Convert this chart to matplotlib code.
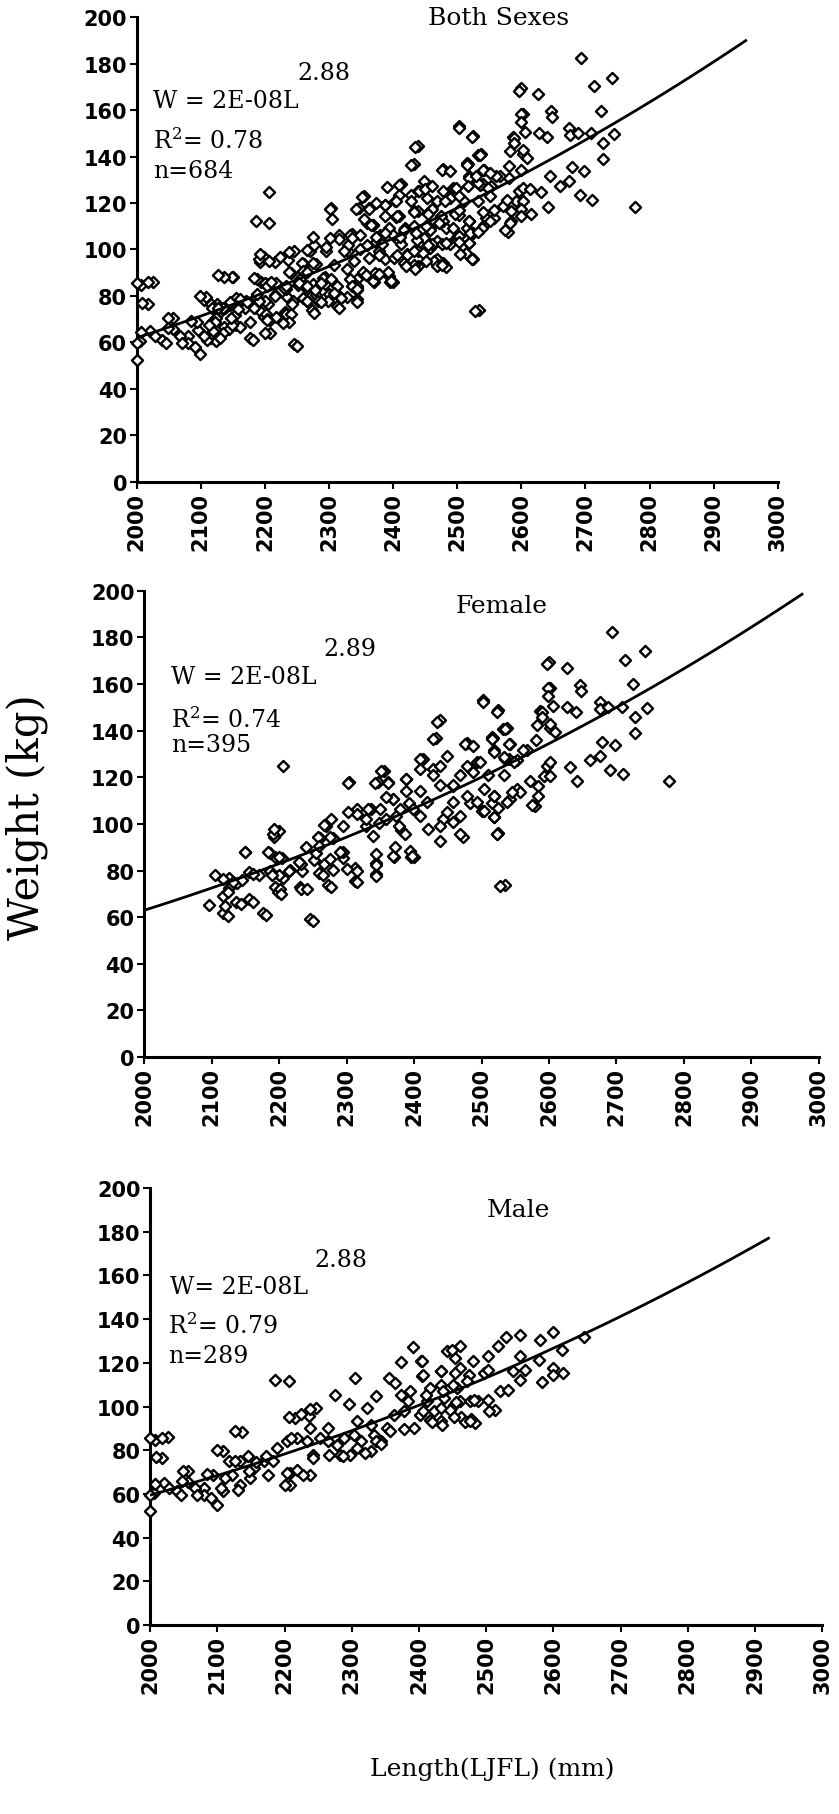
import numpy as np
import matplotlib
matplotlib.use("Agg")
import matplotlib.pyplot as plt

# female fish (length mm, weight kg)
female_len = [2105, 2096, 2116, 2117, 2125, 2126, 2136, 2155, 2155, 2176, 2194, 2198, 2205, 2194,
              2231, 2234, 2246, 2266, 2273, 2280, 2294, 2312, 2312, 2343, 2343, 2370, 2395, 2534,
              2137, 2145, 2186, 2216, 2251, 2259,
              2150, 2187, 2204, 2193, 2199, 2233, 2254, 2261, 2279, 2270, 2294, 2303, 2316, 2336,
              2346, 2355, 2362, 2348, 2368, 2373, 2388, 2393, 2400, 2381, 2413, 2428, 2433, 2438,
              2443, 2458, 2473, 2478, 2483, 2493, 2502, 2515, 2517, 2525, 2525, 2537, 2540, 2552,
              2567, 2579, 2587, 2600, 2602, 2592, 2602, 2597,
              2693, 2742, 2713, 2597, 2626, 2725, 2646, 2648, 2599, 2599, 2606, 2627, 2640, 2675,
              2676, 2688, 2708, 2745, 2727, 2728, 2523, 2502, 2589, 2589, 2532, 2542, 2515, 2582,
              2602, 2609, 2580, 2561, 2518, 2679, 2698, 2661, 2675, 2631, 2641, 2691, 2710, 2778,
              2535, 2552, 2602, 2602, 2572, 2584, 2584, 2575, 2518, 2542, 2557, 2503, 2518, 2523,
              2500, 2525, 2510,
              2206, 2302, 2342, 2362, 2351, 2434, 2428, 2409, 2409, 2388, 2388, 2369, 2332, 2315,
              2302, 2266, 2295, 2191, 2193, 2149, 2183, 2200, 2258, 2275, 2240, 2230, 2215, 2200,
              2190, 2170, 2161, 2131, 2116, 2124, 2119, 2124, 2144, 2161, 2181, 2201, 2203, 2233,
              2241, 2250, 2277, 2315, 2316, 2344, 2344, 2344, 2394, 2397, 2369, 2372, 2339, 2329,
              2359, 2378, 2387, 2409, 2421, 2438, 2438, 2448, 2458, 2468, 2468, 2458, 2478, 2493,
              2503, 2518, 2523, 2528, 2518, 2538, 2545, 2533, 2548, 2533, 2535, 2540, 2515, 2476,
              2488, 2518, 2498, 2478, 2488, 2468, 2448, 2438, 2428, 2409, 2419, 2438, 2458, 2399,
              2379, 2349, 2359, 2329, 2277, 2259, 2275, 2290, 2300, 2265]
female_wt = [78.1, 65.3, 61.7, 68.9, 76.7, 72.4, 66.7, 79.3, 67.7, 62.0, 73.0, 71.0, 76.7, 86.0,
             73.0, 79.6, 59.3, 83.0, 73.9, 80.3, 85.3, 81.0, 75.7, 83.4, 78.6, 86.0, 86.0, 73.9,
             74.6, 76.0, 79.6, 80.3, 84.6, 78.9,
             88.1, 87.4, 85.2, 94.6, 96.8, 83.0, 87.4, 93.9, 93.9, 99.3, 88.1, 117.8, 106.2, 106.5,
             117.8, 122.9, 117.8, 100.4, 110.6, 103.3, 119.3, 109.1, 86.0, 97.5, 128.0, 123.6, 136.7, 144.6,
             101.9, 116.4, 94.6, 134.5, 109.1, 126.5, 153.3, 109.1, 136.7, 149.0, 96.1, 141.0, 128.0, 114.9,
             131.6, 107.7, 148.3, 169.3, 158.4, 120.7, 141.0, 125.0,
             182.3, 174.0, 170.4, 168.4, 167.0, 159.8, 159.4, 157.2, 158.2, 155.0, 150.6, 150.2, 148.2, 152.4,
             149.4, 150.2, 150.1, 149.7, 145.8, 138.9, 148.2, 152.2, 147.9, 145.8, 140.8, 134.3, 137.2, 142.2,
             142.9, 139.4, 135.8, 131.5, 131.5, 135.3, 133.9, 127.2, 129.3, 124.6, 118.2, 123.3, 121.5, 118.2,
             127.9, 127.2, 126.5, 120.7, 118.6, 116.4, 112.1, 108.2, 112.1, 110.7, 113.6, 115.0, 102.9, 95.7,
             105.5, 107.0, 121.0,
             124.8, 117.5, 117.5, 117.6, 122.6, 143.9, 136.5, 127.9, 123.6, 119.3, 114.3, 110.7, 106.4, 104.3,
             105.0, 99.6, 99.3, 95.7, 97.9, 88.1, 87.8, 85.7, 94.3, 94.3, 90.0, 83.6, 80.0, 78.0,
             78.0, 78.0, 78.5, 75.0, 76.4, 70.7, 65.0, 60.7, 65.7, 66.7, 61.0, 72.1, 70.0, 72.1,
             72.1, 58.5, 72.8, 75.0, 80.0, 77.6, 82.5, 87.3, 88.5, 86.3, 86.3, 89.9, 95.0, 99.3,
             102.1, 99.3, 95.7, 103.6, 97.9, 92.8, 99.3, 105.0, 100.7, 95.7, 103.6, 109.3, 112.1, 109.3,
             105.7, 102.8, 95.7, 73.5, 112.1, 109.3, 113.6, 120.8, 126.5, 128.7, 140.8, 134.3, 136.5, 134.3,
             133.6, 130.7, 126.5, 125.0, 122.2, 120.8, 129.3, 125.0, 120.8, 114.3, 109.3, 116.5, 116.5, 106.4,
             106.4, 106.4, 111.4, 102.1, 102.1, 90.7, 85.0, 87.9, 80.7, 78.0]

# male fish
male_len = [2186, 2206, 2305, 2275, 2336, 2391, 2373, 2403, 2355, 2365, 2404, 2432, 2441, 2453,
            2136, 2108, 2026, 2007, 2017, 2057, 2057, 2020, 2005, 2040, 2080, 2080, 2094, 2117,
            2134, 2146, 2122, 2134, 2109, 2149, 2154, 2169, 2176, 2188, 2183, 2208, 2208, 2218,
            2238, 2216, 2236, 2246, 2238, 2218, 2203, 2233, 2253, 2243, 2265, 2265, 2278, 2288,
            2283, 2298, 2303, 2313, 2308, 2323, 2328, 2333, 2328, 2343, 2353, 2363, 2378, 2383,
            2392, 2402, 2412, 2422, 2432, 2437, 2452, 2457, 2417, 2387, 2373,
            2600, 2551, 2530, 2517, 2580, 2645, 2613, 2449, 2461, 2404, 2481, 2503, 2551, 2578,
            2432, 2461, 2454, 2474, 2496, 2503, 2540, 2558, 2551, 2600, 2600, 2615, 2583, 2406,
            2432, 2451, 2471, 2411, 2436, 2461, 2432, 2446, 2406, 2417, 2434, 2488, 2503, 2513,
            2520, 2533, 2463, 2478, 2483, 2476,
            2000, 2018, 2008, 2000, 2000, 2007, 2028, 2046, 2049, 2048, 2067, 2070, 2084, 2091,
            2099, 2099, 2105, 2112, 2126, 2130, 2126, 2147, 2158, 2172, 2200, 2203, 2207, 2228,
            2224, 2238, 2210, 2242, 2266, 2287, 2296, 2308, 2319, 2336, 2343, 2357, 2378, 2420,
            2452, 2469, 2476, 2504, 2482, 2455]
male_wt = [112.3, 111.5, 113.0, 105.4, 104.9, 127.1, 120.2, 120.7, 113.0, 110.6, 113.8, 116.4, 125.3, 122.0,
           88.2, 79.5, 85.9, 84.8, 76.4, 70.3, 65.7, 65.0, 60.5, 61.2, 62.7, 59.7, 68.8, 74.9,
           74.9, 77.2, 68.8, 64.2, 61.2, 67.3, 71.9, 74.9, 68.8, 81.0, 74.9, 64.2, 69.5, 71.0,
           68.8, 94.7, 95.5, 99.3, 90.2, 85.6, 84.1, 84.1, 85.6, 78.0, 90.2, 84.1, 82.6, 85.6,
           78.0, 78.0, 87.1, 84.1, 93.2, 99.3, 91.7, 87.1, 79.5, 84.1, 90.2, 96.3, 97.8, 102.4,
           90.2, 96.3, 102.4, 97.8, 93.2, 103.9, 100.9, 108.5, 108.5, 107.0, 105.4,
           134.0, 132.9, 131.7, 127.5, 130.6, 131.7, 126.0, 126.0, 127.5, 120.7, 120.7, 123.0, 123.0, 121.4,
           116.1, 117.6, 115.3, 114.6, 115.3, 116.8, 116.1, 116.8, 112.2, 117.6, 114.6, 115.3, 111.2, 114.6,
           110.0, 110.0, 111.5, 105.4, 106.9, 102.4, 99.3, 98.6, 97.8, 94.0, 91.4, 102.4, 103.2, 98.6,
           106.9, 107.7, 95.2, 94.1, 92.6, 102.4,
           85.5, 85.8, 77.0, 52.3, 59.7, 64.4, 62.8, 59.7, 70.6, 66.0, 62.8, 59.7, 69.0, 58.1,
           55.0, 80.1, 62.8, 67.5, 89.0, 62.0, 75.0, 70.6, 74.5, 77.6, 64.0, 69.6, 95.0, 68.5,
           96.6, 99.0, 85.8, 76.4, 78.0, 77.2, 101.2, 81.2, 78.9, 84.4, 82.9, 89.0, 89.6, 92.7,
           95.0, 92.7, 93.5, 98.1, 102.8, 102.0]

# both sexes = female + male (n = 395 + 289)
both_len = female_len + male_len
both_wt = female_wt + male_wt

titles = ["Both Sexes", "Female", "Male"]
exponents = [2.88, 2.89, 2.88]
r2 = [0.78, 0.74, 0.79]
counts = [684, 395, 289]
line_w0 = [62, 63, 59.5]       # fitted weight at 2000 mm
line_end = [2950, 2975, 2920]  # where each trend line stops
x_ticks = np.arange(2000, 3001, 100)
y_ticks = np.arange(0, 201, 20)


def draw_panel(ax, lens, wts, i, eq_pos, exp_pos, r2_pos, n_pos, title_pos, eq_text):
    ax.scatter(lens, wts, marker="D", s=32, facecolors="white", edgecolors="black",
               linewidths=1.7, clip_on=False, zorder=3)
    xs = np.linspace(2000, line_end[i], 100)
    ax.plot(xs, line_w0[i] * (xs / 2000.0) ** exponents[i], color="black", lw=2, zorder=4)

    ax.set_xlim(2000, 3000)
    ax.set_ylim(0, 200)
    ax.set_xticks(x_ticks)
    ax.set_yticks(y_ticks)
    ax.set_xticklabels([str(t) for t in x_ticks], rotation=90)
    for s in ["top", "right"]:
        ax.spines[s].set_visible(False)
    for s in ["left", "bottom"]:
        ax.spines[s].set_linewidth(2.2)
    ax.tick_params(direction="out", length=5, width=1.5, labelsize=15, pad=2)
    for lab in ax.get_xticklabels() + ax.get_yticklabels():
        lab.set_family("DejaVu Sans")
        lab.set_weight("bold")

    serif = "DejaVu Serif"
    ax.text(*title_pos, titles[i], transform=ax.transAxes, ha="center", va="center",
            fontsize=18, family=serif)
    ax.text(*eq_pos, eq_text, ha="left", va="center", fontsize=17, family=serif)
    ax.text(*exp_pos, "%.2f" % exponents[i], ha="left", va="center", fontsize=17, family=serif)
    ax.text(*r2_pos, "R$^2$= %.2f" % r2[i], ha="left", va="center", fontsize=17, family=serif)
    ax.text(*n_pos, "n=%d" % counts[i], ha="left", va="center", fontsize=17, family=serif)


def main():
    plt.rcParams["mathtext.fontset"] = "dejavuserif"
    fig = plt.figure(figsize=(8.39, 18.15), dpi=100)

    ax1 = fig.add_axes([0.163, 0.734, 0.764, 0.256])
    ax2 = fig.add_axes([0.172, 0.417, 0.804, 0.257])
    ax3 = fig.add_axes([0.179, 0.104, 0.801, 0.241])

    draw_panel(ax1, both_len, both_wt, 0, (2025, 164), (2250, 176), (2025, 147), (2025, 134),
               (0.565, 1.0), "W = 2E-08L")
    draw_panel(ax2, female_len, female_wt, 1, (2040, 163), (2265, 175), (2040, 145), (2040, 134),
               (0.53, 0.968), "W = 2E-08L")
    draw_panel(ax3, male_len, male_wt, 2, (2030, 155), (2245, 167), (2027, 137), (2027, 123.5),
               (0.548, 0.95), "W= 2E-08L")

    fig.text(0.032, 0.55, "Weight (kg)", rotation=90, ha="center", va="center",
             fontsize=30, family="DejaVu Serif")
    fig.text(0.587, 0.025, "Length(LJFL) (mm)", ha="center", va="center",
             fontsize=18, family="DejaVu Serif")

    fig.savefig("out.png", dpi=100)


if __name__ == "__main__":
    main()
